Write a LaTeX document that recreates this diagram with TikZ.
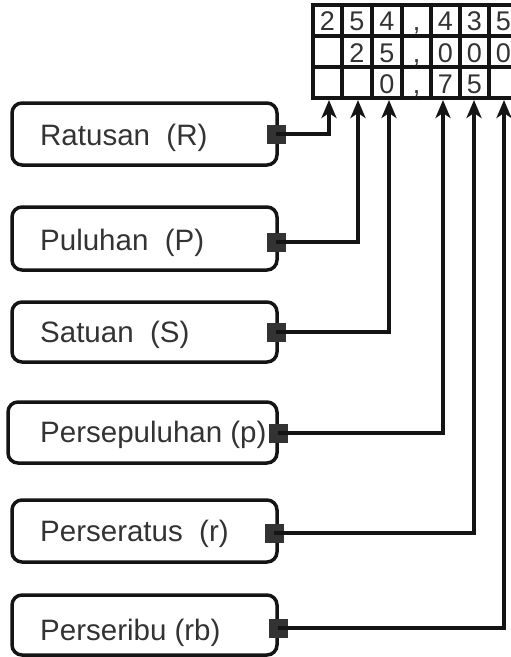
\documentclass[tikz,border=0pt]{standalone}
\usepackage{fontspec}
\setmainfont{Liberation Sans}
\usetikzlibrary{arrows.meta}
\definecolor{ink}{HTML}{141414}
\definecolor{txt}{HTML}{333333}
\definecolor{sqc}{HTML}{333333}
\begin{document}
\begin{tikzpicture}[x=1pt,y=-1pt,
  box/.style={draw=ink, line width=3.5pt, rounded corners=10pt, inner sep=0pt},
  lbl/.style={anchor=base west, inner sep=0pt, text=txt, font=\fontsize{29.5}{29.5}\selectfont},
  sq/.style={fill=sqc, minimum size=19pt, inner sep=0pt},
  conn/.style={draw=ink, line width=4pt},
  arr/.style={conn, -{Stealth[length=18pt,width=15pt,inset=5pt]}},
  dig/.style={text=txt, font=\fontsize{27}{27}\selectfont, inner sep=0pt, anchor=base},
  gridline/.style={draw=ink, line width=3.5pt}]
\useasboundingbox (0,0) rectangle (511,657);

% ---- table of digits ----
\foreach \yy in {5,36,67,98} \draw[gridline] (311.25,\yy) -- (520,\yy);
\foreach \xx in {313,342,372,402,431,460,489,518} \draw[gridline] (\xx,5) -- (\xx,98);

% row 1
\node[dig] (d11) at (327.5,30.5) {2};
\node[dig] (d12) at (357,30.5) {5};
\node[dig] (d13) at (387,30.5) {4};
\node[dig] (d14) at (416.5,30.5) {,};
\node[dig] (d15) at (445.5,30.5) {4};
\node[dig] (d16) at (474.5,30.5) {3};
\node[dig] (d17) at (503.5,30.5) {5};
% row 2
\node[dig] (d22) at (357,62) {2};
\node[dig] (d23) at (387,62) {5};
\node[dig] (d24) at (416.5,62) {,};
\node[dig] (d25) at (445.5,62) {0};
\node[dig] (d26) at (474.5,62) {0};
\node[dig] (d27) at (503.5,62) {0};
% row 3
\node[dig] (d33) at (387,93) {0};
\node[dig] (d34) at (416.5,93) {,};
\node[dig] (d35) at (445.5,93) {7};
\node[dig] (d36) at (474.5,93) {5};

% arrow targets at the bottom of the table
\coordinate (t1) at (329,100);
\coordinate (t2) at (358,100);
\coordinate (t3) at (389,100);
\coordinate (t4) at (443,100);
\coordinate (t5) at (474,100);
\coordinate (t6) at (504,100);

% ---- boxes ----
\node[box, minimum width=265pt, minimum height=62pt] (R) at (144.5,134) {};
\node[box, minimum width=265pt, minimum height=63pt] (P) at (144.5,238.5) {};
\node[box, minimum width=265pt, minimum height=60pt] (S) at (144.5,332) {};
\node[box, minimum width=269pt, minimum height=61pt] (p) at (142.5,432.5) {};
\node[box, minimum width=265pt, minimum height=62pt] (r) at (144.5,531) {};
\node[box, minimum width=265pt, minimum height=60pt] (rb) at (144.5,625) {};

\node[lbl] (Rt) at (40,145) {Ratusan\ \ (R)};
\node[lbl] (Pt) at (40,250) {Puluhan\ \ (P)};
\node[lbl] (St) at (40,342) {Satuan\ \ (S)};
\node[lbl] (pt) at (40,442) {Persepuluhan (p)};
\node[lbl] (rt) at (40,541) {Perseratus\ \ (r)};
\node[lbl] (rbt) at (40,640) {Perseribu (rb)};

% ---- connector squares ----
\node[sq] (Rs) at (276,134) {};
\node[sq] (Ps) at (276,242) {};
\node[sq] (Ss) at (276,332) {};
\node[sq] (ps) at (278,433) {};
\node[sq] (rs) at (274,533) {};
\node[sq] (rbs) at (278,628) {};

% ---- connectors ----
\draw[arr] (Rs.center) -| (t1);
\draw[arr] (Ps.center) -| (t2);
\draw[arr] (Ss.center) -| (t3);
\draw[arr] (ps.center) -| (t4);
\draw[arr] (rs.center) -| (t5);
\draw[arr] (rbs.center) -| (t6);
\end{tikzpicture}
\end{document}
